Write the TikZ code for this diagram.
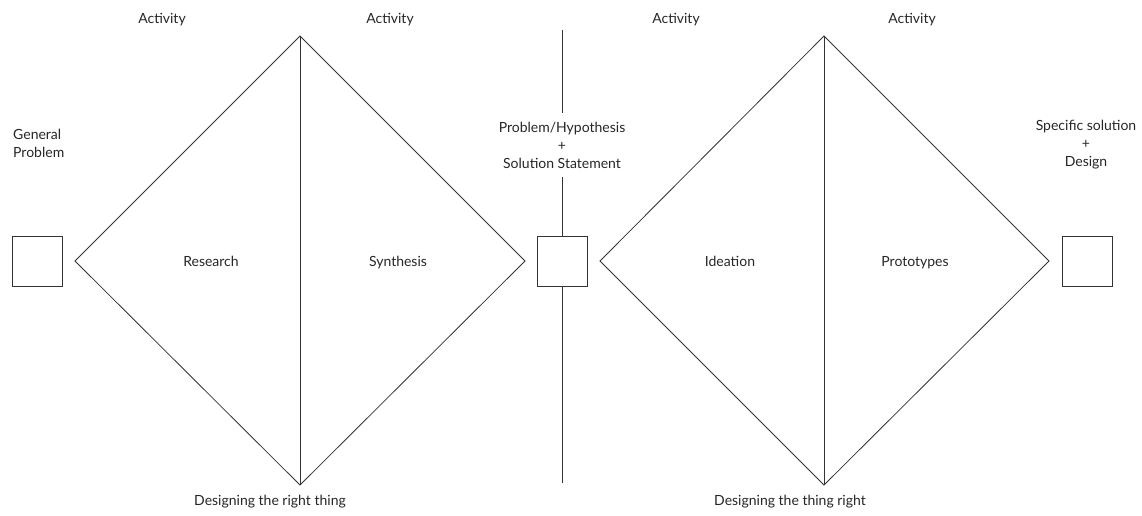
\documentclass[tikz,border=0pt]{standalone}
\usepackage{fontspec}
\setmainfont{Lato}
\begin{document}
\begin{tikzpicture}[x=1pt,y=-1pt,
  every node/.style={font=\fontsize{14}{18}\selectfont, text=black!85},
  one/.style={text height=0.75em, text depth=0.25em},
  ln/.style={draw=black!80, line width=0.8pt},
  sq/.style={ln, minimum width=50pt, minimum height=50pt, inner sep=0pt},
  lbl/.style={align=center, inner sep=1pt}]
\useasboundingbox (0,0) rectangle (1142,515);
% boxes
\node[sq] (b1) at (37,261) {};
\node[sq] (b2) at (562,261) {};
\node[sq] (b3) at (1087,261) {};
% diamond 1
\coordinate (d1l) at (75,261);
\coordinate (d1t) at (300,36);
\coordinate (d1r) at (525,261);
\coordinate (d1b) at (300,485);
\draw[ln] (d1l) -- (d1t) -- (d1r) -- (d1b) -- cycle;
\draw[ln] (d1t) -- (d1b);
% diamond 2
\coordinate (d2l) at (600,261);
\coordinate (d2t) at (824,36);
\coordinate (d2r) at (1049,261);
\coordinate (d2b) at (824,485);
\draw[ln] (d2l) -- (d2t) -- (d2r) -- (d2b) -- cycle;
\draw[ln] (d2t) -- (d2b);
% labels
\node[one] (a1) at (162,20.5) {Activity};
\node[one] (a2) at (390,20.5) {Activity};
\node[one] (a3) at (676,20.5) {Activity};
\node[one] (a4) at (912,20.5) {Activity};
\node[lbl, align=left, anchor=west] (gp) at (12,143) {General\\Problem};
\node[one] (r) at (211,263.5) {Research};
\node[one] (s) at (398,263.5) {Synthesis};
\node[one] (i) at (730,263.5) {Ideation};
\node[one] (p) at (915,263.5) {Prototypes};
\node[lbl, inner sep=9pt] (ph) at (562,145) {Problem/Hypothesis\\+\\Solution Statement};
\node[lbl] (sd) at (1086,145) {Specific solution\\+\\Design};
\node[one] (dr) at (270,502.5) {Designing the right thing};
\node[one] (dt) at (790,502.5) {Designing the thing right};
% central axis
\coordinate (vt) at (562,30);
\coordinate (vb) at (562,483);
\draw[ln] (vt) -- (ph.north);
\draw[ln] (ph.south) -- (b2.north);
\draw[ln] (b2.south) -- (vb);
\end{tikzpicture}
\end{document}
